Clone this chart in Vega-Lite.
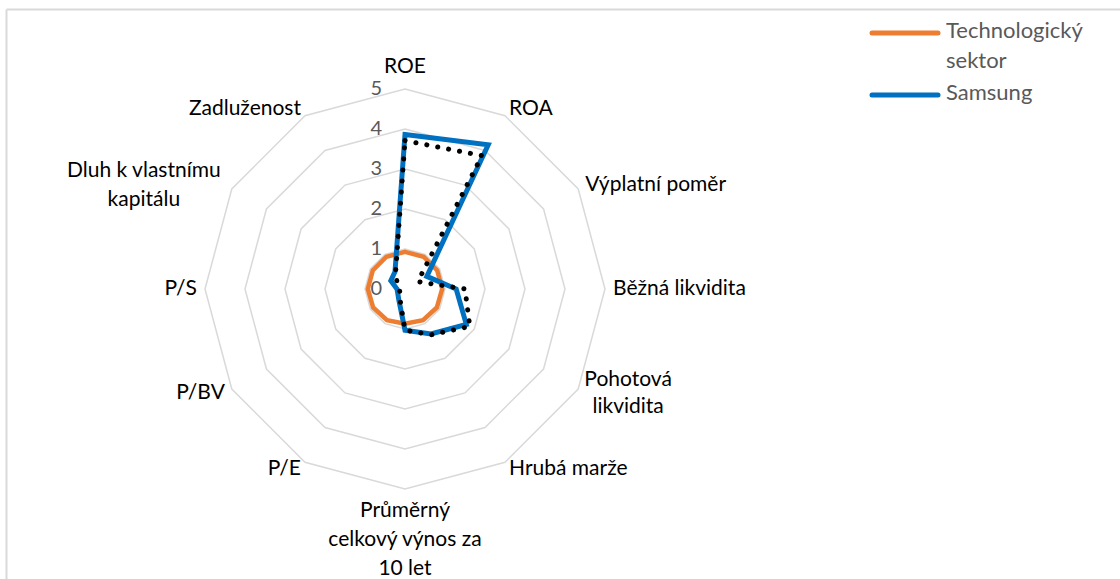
{
  "$schema": "https://vega.github.io/schema/vega-lite/v6.json",
  "width": 1114,
  "height": 570,
  "autosize": "none",
  "padding": {"left": 6, "top": 9, "right": 0, "bottom": 0},
  "background": "white",
  "config": {
    "view": {"stroke": null},
    "font": "Lato",
    "axis": {"labels": false, "ticks": false, "grid": false, "domainColor": "#D9D9D9", "domainWidth": 2}
  },
  "datasets": {
    "radar": [
      {"category": "ROE", "series": "Technologický sektor", "value": 0.93},
      {"category": "ROA", "series": "Technologický sektor", "value": 0.93},
      {"category": "Výplatní poměr", "series": "Technologický sektor", "value": 0.93},
      {"category": "Běžná likvidita", "series": "Technologický sektor", "value": 0.93},
      {"category": "Pohotová\nlikvidita", "series": "Technologický sektor", "value": 0.92},
      {"category": "Hrubá marže", "series": "Technologický sektor", "value": 0.9},
      {"category": "Průměrný\ncelkový výnos za\n10 let", "series": "Technologický sektor", "value": 0.87},
      {"category": "P/E", "series": "Technologický sektor", "value": 0.9},
      {"category": "P/BV", "series": "Technologický sektor", "value": 0.92},
      {"category": "P/S", "series": "Technologický sektor", "value": 0.93},
      {"category": "Dluh k vlastnímu\nkapitálu", "series": "Technologický sektor", "value": 0.93},
      {"category": "Zadluženost", "series": "Technologický sektor", "value": 0.93},
      {"category": "ROE", "series": "Samsung", "value": 3.86},
      {"category": "ROA", "series": "Samsung", "value": 4.16},
      {"category": "Výplatní poměr", "series": "Samsung", "value": 0.63},
      {"category": "Běžná likvidita", "series": "Samsung", "value": 1.28},
      {"category": "Pohotová\nlikvidita", "series": "Samsung", "value": 1.77},
      {"category": "Hrubá marže", "series": "Samsung", "value": 1.3},
      {"category": "Průměrný\ncelkový výnos za\n10 let", "series": "Samsung", "value": 1.03},
      {"category": "P/E", "series": "Samsung", "value": 0.31},
      {"category": "P/BV", "series": "Samsung", "value": 0.21},
      {"category": "P/S", "series": "Samsung", "value": 0.2},
      {"category": "Dluh k vlastnímu\nkapitálu", "series": "Samsung", "value": 0.41},
      {"category": "Zadluženost", "series": "Samsung", "value": 0.5},
      {"category": "ROE", "series": "Samsung 2", "value": 3.71},
      {"category": "ROA", "series": "Samsung 2", "value": 3.85},
      {"category": "Výplatní poměr", "series": "Samsung 2", "value": 0.37},
      {"category": "Běžná likvidita", "series": "Samsung 2", "value": 1.5},
      {"category": "Pohotová\nlikvidita", "series": "Samsung 2", "value": 1.87},
      {"category": "Hrubá marže", "series": "Samsung 2", "value": 1.32},
      {"category": "Průměrný\ncelkový výnos za\n10 let", "series": "Samsung 2", "value": 1.03},
      {"category": "P/E", "series": "Samsung 2", "value": 0.26},
      {"category": "P/BV", "series": "Samsung 2", "value": 0.15},
      {"category": "P/S", "series": "Samsung 2", "value": 0.14},
      {"category": "Dluh k vlastnímu\nkapitálu", "series": "Samsung 2", "value": 0.22},
      {"category": "Zadluženost", "series": "Samsung 2", "value": 0.47}
    ],
    "levels": [
      {"level": 0}, {"level": 1}, {"level": 2}, {"level": 3}, {"level": 4}, {"level": 5}
    ]
  },
  "layer": [
    {
      "data": {"name": "radar"},
      "transform": [
        {"window": [{"op": "row_number", "as": "rn"}], "groupby": ["series"]},
        {"filter": "datum.series == 'Technologický sektor'"},
        {"calculate": "(datum.rn - 1) * PI / 6", "as": "ang"},
        {"calculate": "[1, 2, 3, 4, 5]", "as": "lv"},
        {"flatten": ["lv"]},
        {"calculate": "datum.lv * sin(datum.ang)", "as": "gx"},
        {"calculate": "datum.lv * cos(datum.ang)", "as": "gy"}
      ],
      "mark": {"type": "line", "interpolate": "linear-closed", "stroke": "#D9D9D9", "strokeWidth": 1.5},
      "encoding": {
        "x": {"field": "gx", "type": "quantitative", "scale": {"domain": [-9.975, 17.875], "nice": false, "zero": false}, "axis": {"orient": "top", "title": null}},
        "y": {"field": "gy", "type": "quantitative", "scale": {"domain": [-7.25, 7.0], "nice": false, "zero": false}, "axis": {"title": null}},
        "detail": {"field": "lv", "type": "nominal"},
        "order": {"field": "rn", "type": "quantitative"}
      }
    },
    {
      "data": {"name": "levels"},
      "mark": {"type": "text", "align": "right", "baseline": "middle", "dx": -23, "fontSize": 20, "color": "#595959", "font": "Lato"},
      "encoding": {
        "x": {"datum": 0, "type": "quantitative"},
        "y": {"field": "level", "type": "quantitative"},
        "text": {"field": "level", "type": "quantitative"}
      }
    },
    {
      "data": {"name": "radar"},
      "transform": [
        {"window": [{"op": "row_number", "as": "rn"}], "groupby": ["series"]},
        {"filter": "datum.series == 'Technologický sektor'"},
        {"calculate": "(datum.rn - 1) * PI / 6", "as": "ang"},
        {"calculate": "datum.value * sin(datum.ang)", "as": "px"},
        {"calculate": "datum.value * cos(datum.ang)", "as": "py"}
      ],
      "mark": {"type": "line", "interpolate": "linear-closed", "strokeWidth": 4.5},
      "encoding": {
        "x": {"field": "px", "type": "quantitative"},
        "y": {"field": "py", "type": "quantitative"},
        "order": {"field": "rn", "type": "quantitative"},
        "color": {
          "field": "series", "type": "nominal",
          "scale": {"domain": ["Technologický sektor", "Samsung"], "range": ["#ED7D31", "#0070C0"]},
          "legend": {
            "title": null,
            "orient": "none",
            "legendX": 860,
            "legendY": 1,
            "direction": "vertical",
            "symbolType": "M-5.5,2L5.5,2",
            "symbolSize": 144,
            "symbolOffset": 28,
            "symbolStrokeWidth": 5,
            "labelFont": "Lato",
            "labelFontSize": 22,
            "labelColor": "#595959",
            "labelBaseline": "top",
            "labelOffset": 30,
            "labelLimit": 300,
            "rowPadding": 0,
            "labelExpr": "datum.label == 'Technologický sektor' ? ['Technologický', 'sektor'] : datum.label",
            "encode": {
              "labels": {"update": {"lineHeight": {"value": 30}}},
              "symbols": {"update": {"strokeCap": {"value": "round"}}}
            }
          }
        }
      }
    },
    {
      "data": {"name": "radar"},
      "transform": [
        {"window": [{"op": "row_number", "as": "rn"}], "groupby": ["series"]},
        {"filter": "datum.series == 'Samsung'"},
        {"calculate": "(datum.rn - 1) * PI / 6", "as": "ang"},
        {"calculate": "datum.value * sin(datum.ang)", "as": "px"},
        {"calculate": "datum.value * cos(datum.ang)", "as": "py"}
      ],
      "mark": {"type": "line", "interpolate": "linear-closed", "strokeWidth": 5},
      "encoding": {
        "x": {"field": "px", "type": "quantitative"},
        "y": {"field": "py", "type": "quantitative"},
        "order": {"field": "rn", "type": "quantitative"},
        "color": {"field": "series", "type": "nominal"}
      }
    },
    {
      "data": {"name": "radar"},
      "transform": [
        {"window": [{"op": "row_number", "as": "rn"}], "groupby": ["series"]},
        {"filter": "datum.series == 'Samsung 2'"},
        {"calculate": "(datum.rn - 1) * PI / 6", "as": "ang"},
        {"calculate": "datum.value * sin(datum.ang)", "as": "px"},
        {"calculate": "datum.value * cos(datum.ang)", "as": "py"}
      ],
      "mark": {"type": "line", "interpolate": "linear-closed", "stroke": "#000000", "strokeWidth": 5, "strokeDash": [0.1, 11], "strokeCap": "round"},
      "encoding": {
        "x": {"field": "px", "type": "quantitative"},
        "y": {"field": "py", "type": "quantitative"},
        "order": {"field": "rn", "type": "quantitative"}
      }
    },
    {
      "data": {"name": "radar"},
      "transform": [
        {"window": [{"op": "row_number", "as": "rn"}], "groupby": ["series"]},
        {"filter": "datum.series == 'Samsung' && datum.rn == 1"},
        {"calculate": "(datum.rn - 1) * PI / 6", "as": "ang"},
        {"calculate": "5.2 * sin(datum.ang)", "as": "lx"},
        {"calculate": "5.2 * cos(datum.ang)", "as": "ly"}
      ],
      "mark": {"type": "text", "align": "center", "baseline": "bottom", "dy": -4, "fontSize": 21, "font": "Lato", "color": "#000000"},
      "encoding": {
        "x": {"field": "lx", "type": "quantitative"},
        "y": {"field": "ly", "type": "quantitative"},
        "text": {"field": "category"}
      }
    },
    {
      "data": {"name": "radar"},
      "transform": [
        {"window": [{"op": "row_number", "as": "rn"}], "groupby": ["series"]},
        {"filter": "datum.series == 'Samsung' && datum.rn == 7"},
        {"calculate": "(datum.rn - 1) * PI / 6", "as": "ang"},
        {"calculate": "5.2 * sin(datum.ang)", "as": "lx"},
        {"calculate": "5.2 * cos(datum.ang)", "as": "ly"}
      ],
      "mark": {"type": "text", "align": "center", "baseline": "top", "dy": 3, "lineBreak": "\n", "lineHeight": 29, "fontSize": 21, "font": "Lato", "color": "#000000"},
      "encoding": {
        "x": {"field": "lx", "type": "quantitative"},
        "y": {"field": "ly", "type": "quantitative"},
        "text": {"field": "category"}
      }
    },
    {
      "data": {"name": "radar"},
      "transform": [
        {"window": [{"op": "row_number", "as": "rn"}], "groupby": ["series"]},
        {"filter": "datum.series == 'Samsung' && (datum.rn == 2 || datum.rn == 3 || datum.rn == 4 || datum.rn == 6)"},
        {"calculate": "(datum.rn - 1) * PI / 6", "as": "ang"},
        {"calculate": "5.2 * sin(datum.ang)", "as": "lx"},
        {"calculate": "5.2 * cos(datum.ang)", "as": "ly"}
      ],
      "mark": {"type": "text", "align": "left", "baseline": "middle", "fontSize": 21, "font": "Lato", "color": "#000000"},
      "encoding": {
        "x": {"field": "lx", "type": "quantitative"},
        "y": {"field": "ly", "type": "quantitative"},
        "text": {"field": "category"}
      }
    },
    {
      "data": {"name": "radar"},
      "transform": [
        {"window": [{"op": "row_number", "as": "rn"}], "groupby": ["series"]},
        {"filter": "datum.series == 'Samsung' && (datum.rn == 8 || datum.rn == 9 || datum.rn == 10 || datum.rn == 12)"},
        {"calculate": "(datum.rn - 1) * PI / 6", "as": "ang"},
        {"calculate": "5.2 * sin(datum.ang)", "as": "lx"},
        {"calculate": "5.2 * cos(datum.ang)", "as": "ly"}
      ],
      "mark": {"type": "text", "align": "right", "baseline": "middle", "fontSize": 21, "font": "Lato", "color": "#000000"},
      "encoding": {
        "x": {"field": "lx", "type": "quantitative"},
        "y": {"field": "ly", "type": "quantitative"},
        "text": {"field": "category"}
      }
    },
    {
      "data": {"name": "radar"},
      "transform": [
        {"window": [{"op": "row_number", "as": "rn"}], "groupby": ["series"]},
        {"filter": "datum.series == 'Samsung' && datum.rn == 5"},
        {"calculate": "(datum.rn - 1) * PI / 6", "as": "ang"},
        {"calculate": "5.2 * sin(datum.ang)", "as": "lx"},
        {"calculate": "5.2 * cos(datum.ang)", "as": "ly"}
      ],
      "mark": {"type": "text", "align": "center", "baseline": "middle", "dx": 43, "dy": -13, "lineBreak": "\n", "lineHeight": 27, "fontSize": 21, "font": "Lato", "color": "#000000"},
      "encoding": {
        "x": {"field": "lx", "type": "quantitative"},
        "y": {"field": "ly", "type": "quantitative"},
        "text": {"field": "category"}
      }
    },
    {
      "data": {"name": "radar"},
      "transform": [
        {"window": [{"op": "row_number", "as": "rn"}], "groupby": ["series"]},
        {"filter": "datum.series == 'Samsung' && datum.rn == 11"},
        {"calculate": "(datum.rn - 1) * PI / 6", "as": "ang"},
        {"calculate": "5.2 * sin(datum.ang)", "as": "lx"},
        {"calculate": "5.2 * cos(datum.ang)", "as": "ly"}
      ],
      "mark": {"type": "text", "align": "center", "baseline": "middle", "dx": -81, "dy": -14, "lineBreak": "\n", "lineHeight": 29, "fontSize": 21, "font": "Lato", "color": "#000000"},
      "encoding": {
        "x": {"field": "lx", "type": "quantitative"},
        "y": {"field": "ly", "type": "quantitative"},
        "text": {"field": "category"}
      }
    }
  ]
}
